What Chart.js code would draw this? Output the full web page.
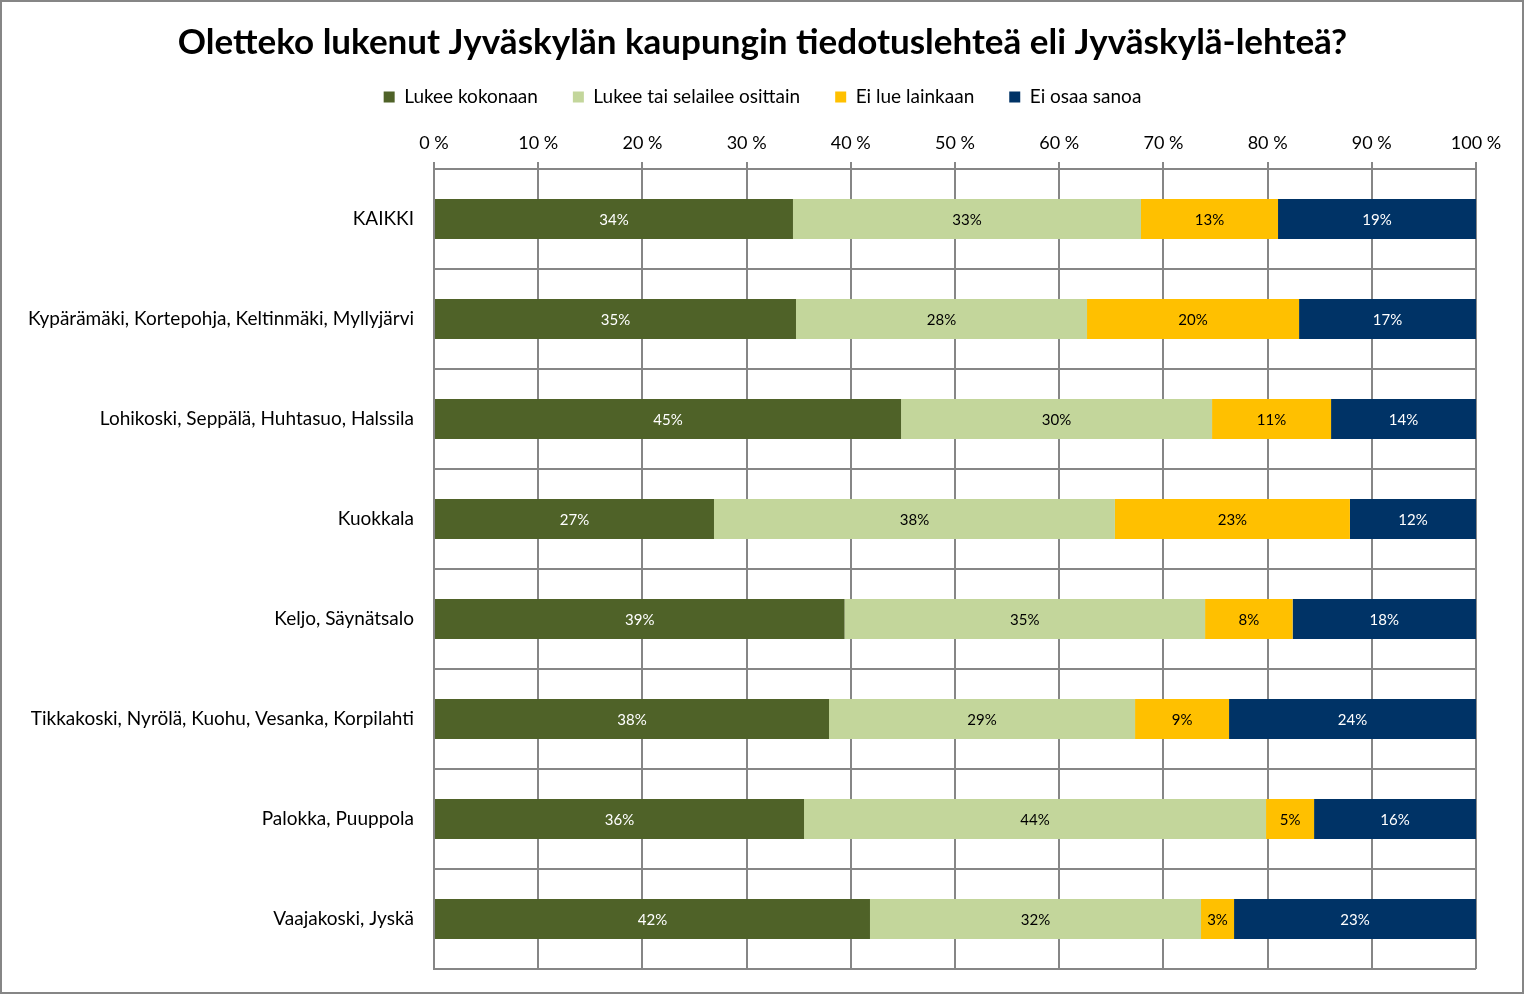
<!DOCTYPE html>
<html>
<head>
<meta charset="utf-8">
<script src="https://cdn.jsdelivr.net/npm/chart.js@4.4.1/dist/chart.umd.min.js"></script>
<style>
html,body{margin:0;padding:0;background:#fff;}
#wrap{width:1525px;height:994px;position:relative;}
canvas{display:block;}
</style>
</head>
<body>
<div id="wrap"><canvas id="c" width="1525" height="994"></canvas></div>
<script>
const titleText = 'Oletteko lukenut Jyväskylän kaupungin tiedotuslehteä eli Jyväskylä-lehteä?';
const categories = [
  'KAIKKI',
  'Kypärämäki, Kortepohja, Keltinmäki, Myllyjärvi',
  'Lohikoski, Seppälä, Huhtasuo, Halssila',
  'Kuokkala',
  'Keljo, Säynätsalo',
  'Tikkakoski, Nyrölä, Kuohu, Vesanka, Korpilahti',
  'Palokka, Puuppola',
  'Vaajakoski, Jyskä'
];
const seriesNames = ['Lukee kokonaan', 'Lukee tai selailee osittain', 'Ei lue lainkaan', 'Ei osaa sanoa'];
const lukeeKokonaan = [34.45, 34.74, 44.82, 26.87, 39.4, 37.91, 35.51, 41.84];
const lukeeOsittain = [33.4, 27.93, 29.85, 38.48, 34.6, 29.37, 44.34, 31.77];
const eiLue = [13.15, 20.35, 11.42, 22.55, 8.4, 9.02, 4.61, 3.17];
const eiOsaa = [19.0, 16.98, 13.91, 12.10, 17.6, 23.70, 15.54, 23.22];
const xTicks = [0,10,20,30,40,50,60,70,80,90,100];

const colors = ['#4F6228', '#C3D69B', '#FFC000', '#003366'];
const labelColors = ['#FFFFFF', '#000000', '#000000', '#FFFFFF'];
const FONT = 'Lato, "Open Sans", "DejaVu Sans", sans-serif';
const GRID = '#868686';

const frame = {
  id: 'frame',
  beforeDraw(chart){
    const c = chart.ctx;
    c.save();
    c.fillStyle = '#fff';
    c.fillRect(0,0,chart.width,chart.height);
    c.restore();
  },
  afterDraw(chart){
    const c = chart.ctx;
    c.save();
    c.strokeStyle = GRID;
    c.lineWidth = 2;
    c.strokeRect(1,1,1522,992);
    c.restore();
  }
};

const barLabels = {
  id: 'barLabels',
  afterDatasetsDraw(chart){
    const c = chart.ctx;
    c.save();
    c.font = '15px ' + FONT;
    c.textAlign = 'center';
    c.textBaseline = 'middle';
    chart.data.datasets.forEach((ds, i) => {
      const meta = chart.getDatasetMeta(i);
      meta.data.forEach((el, j) => {
        const v = ds.data[j];
        const cx = (el.x + el.base) / 2;
        c.fillStyle = labelColors[i];
        c.fillText(Math.round(v) + '%', cx, el.y + 1);
      });
    });
    c.restore();
  }
};

const seriesData = [lukeeKokonaan, lukeeOsittain, eiLue, eiOsaa];

new Chart(document.getElementById('c'), {
  type: 'bar',
  data: {
    labels: categories,
    datasets: seriesNames.map((n, i) => ({
      label: n,
      data: seriesData[i],
      backgroundColor: colors[i],
      borderWidth: 0,
      barPercentage: 0.4,
      categoryPercentage: 1.0
    }))
  },
  options: {
    indexAxis: 'y',
    responsive: false,
    animation: false,
    layout: { padding: { top: 0, left: 0, right: 0, bottom: 25 } },
    plugins: {
      title: {
        display: true,
        text: titleText,
        color: '#000',
        font: { family: FONT, size: 35, weight: 'bold', lineHeight: 1.2 },
        padding: { top: 22, bottom: -11.5 }
      },
      legend: {
        display: true,
        position: 'top',
        labels: {
          color: '#000',
          font: { family: FONT, size: 19 },
          boxWidth: 11,
          boxHeight: 11,
          padding: 35
        }
      },
      tooltip: { enabled: false }
    },
    scales: {
      x: {
        position: 'top',
        stacked: true,
        min: 0,
        max: 100,
        afterBuildTicks(scale){ scale.ticks = xTicks.map(v => ({ value: v })); },
        afterFit(scale){ scale.height += 8; },
        ticks: {
          color: '#000',
          font: { family: FONT, size: 18 },
          padding: 8,
          callback: v => v + ' %',
          maxRotation: 0
        },
        grid: { color: GRID, lineWidth: 2, tickLength: 7, tickColor: GRID, drawTicks: true },
        border: { display: false }
      },
      y: {
        stacked: true,
        afterFit(scale){ scale.width = 434; scale.paddingTop = 0; scale.paddingBottom = 0; },
        ticks: {
          color: '#000',
          font: { family: FONT, size: 19 },
          padding: 20
        },
        grid: { color: GRID, lineWidth: 2, drawTicks: false, offset: true },
        border: { display: true, color: GRID, width: 2 }
      },
      yRight: {
        type: 'linear',
        position: 'right',
        display: true,
        afterFit(scale){ scale.width = 49; scale.paddingTop = 0; scale.paddingBottom = 0; },
        ticks: { display: false },
        grid: { display: false, drawTicks: false },
        border: { display: false }
      }
    }
  },
  plugins: [frame, barLabels]
});
</script>
</body>
</html>
